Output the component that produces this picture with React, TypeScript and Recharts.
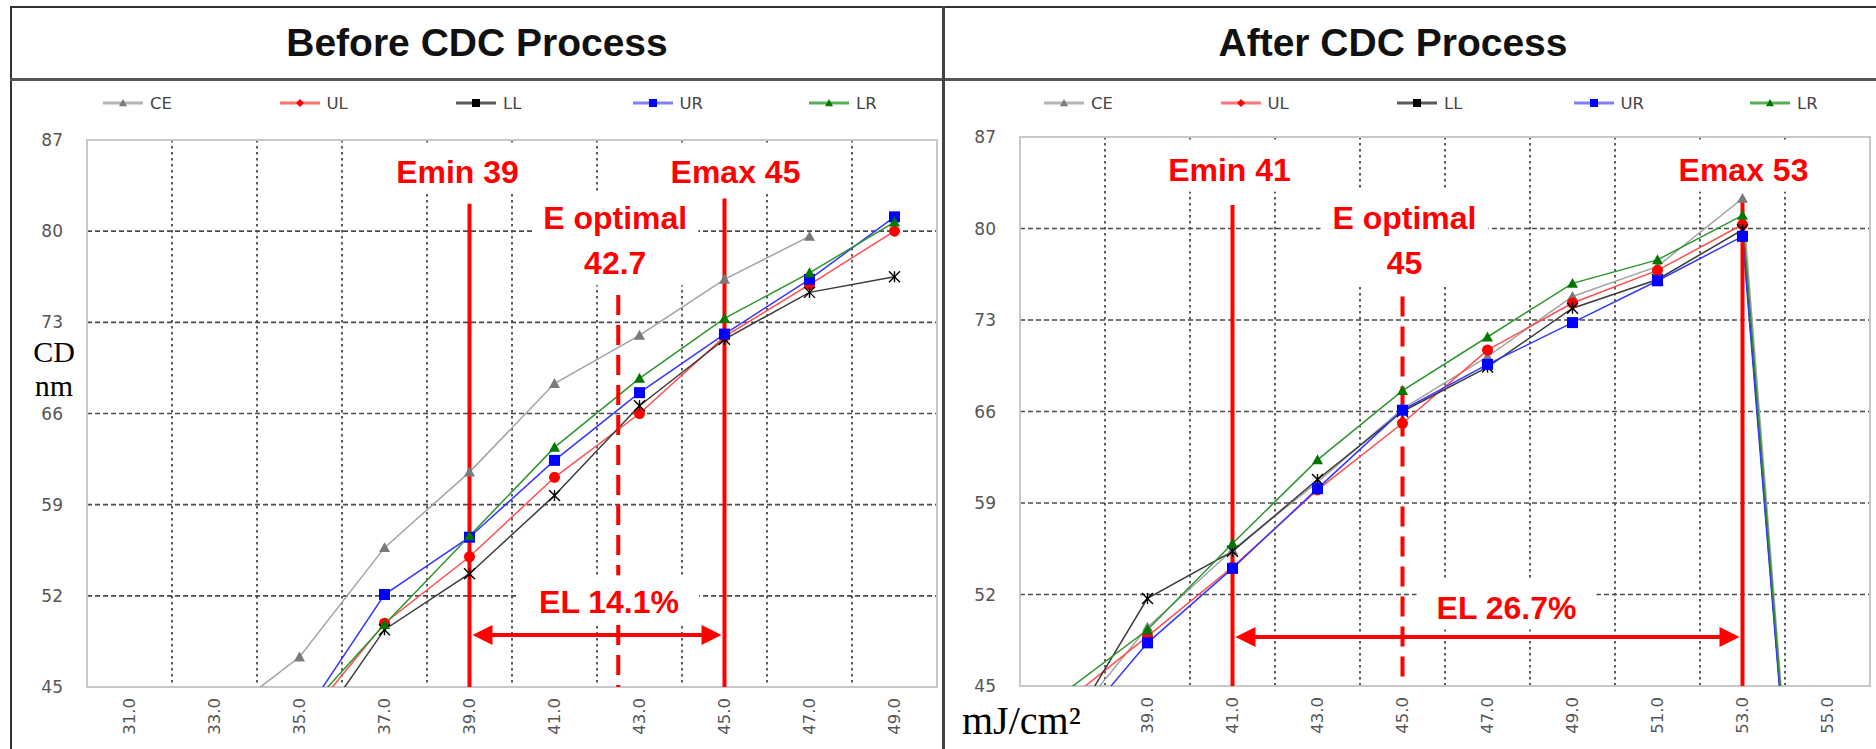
import React from "react"
import {
    CartesianGrid,
    Line,
    LineChart,
    ReferenceArea,
    ReferenceDot,
    ReferenceLine,
    XAxis,
    YAxis,
} from "recharts"

// exposure dose (mJ/cm2) and CD (nm)
const beforeDose = [31, 33, 35, 37, 39, 41, 43, 45, 47, 49]
const beforeCE = [null, 42.3, 47.3, 55.7, 61.5, 68.3, 72.0, 76.3, 79.6, null]
const beforeUL = [null, null, 41.9, 49.9, 55.0, 61.1, 66.0, 71.9, 75.9, 80.0]
const beforeLL = [null, null, 40.0, 49.4, 53.7, 59.7, 66.6, 71.7, 75.3, 76.5]
const beforeUR = [null, null, 42.3, 52.1, 56.5, 62.4, 67.6, 72.1, 76.3, 81.1]
const beforeLR = [null, null, 42.6, 49.8, 56.6, 63.4, 68.7, 73.3, 76.8, 80.7]

const afterDose = [37, 39, 41, 43, 45, 47, 49, 51, 53, 55]
const afterCE = [41.5, 49.5, 55.4, 60.6, 66.2, 70.2, 74.8, 77.1, 82.3, 0]
const afterUL = [43.6, 48.8, 54.1, 60.0, 65.1, 70.7, 74.3, 76.8, 80.3, 0]
const afterLL = [40.9, 51.7, 55.3, 60.8, 66.0, 69.4, 73.9, 76.1, 79.9, 0]
const afterUR = [40.6, 48.3, 54.0, 60.1, 66.1, 69.6, 72.8, 76.0, 79.4, 0]
const afterLR = [44.4, 49.3, 55.9, 62.3, 67.6, 71.7, 75.8, 77.6, 81.0, 0]

const cdTicks = [45, 52, 59, 66, 73, 80, 87]
const cdGrid = [52, 59, 66, 73, 80]
const beforeGridX = [32, 34, 36, 38, 40, 42, 44, 46, 48]
const afterGridX = [38, 40, 42, 44, 46, 48, 50, 52, 54]

const SERIES = [
    { key: "CE", line: "#a3a3a3", mark: "#7a7a7a", legend: "#b4b4b4", shape: "triangle", legendShape: "triangle" },
    { key: "UL", line: "#ff4d4d", mark: "#ff0000", legend: "#ff7373", shape: "circle", legendShape: "diamond" },
    { key: "LL", line: "#3a3a3a", mark: "#000000", legend: "#5a5a5a", shape: "star", legendShape: "square" },
    { key: "UR", line: "#3535ff", mark: "#0000ff", legend: "#8080ff", shape: "square", legendShape: "square" },
    { key: "LR", line: "#2c962c", mark: "#007800", legend: "#55b055", shape: "triangle", legendShape: "triangle" },
]

const build = (xs: number[], cols: Record<string, (number | null)[]>) =>
    xs.map((x, i) => {
        const row: any = { x }
        Object.keys(cols).forEach((k) => (row[k] = cols[k][i]))
        return row
    })

const beforeData = build(beforeDose, { CE: beforeCE, UL: beforeUL, LL: beforeLL, UR: beforeUR, LR: beforeLR })
const afterData = build(afterDose, { CE: afterCE, UL: afterUL, LL: afterLL, UR: afterUR, LR: afterLR })

const RED = "#ff0000"
const SANS = "'Liberation Sans', Arial, sans-serif"
const SERIF = "'Liberation Serif', 'Times New Roman', serif"
const TICK_FONT = "'DejaVu Sans', Verdana, sans-serif"
const CHART_H = 669

const Marker = ({ shape, cx, cy, size, color }: any) => {
    const s = size / 2
    if (shape === "triangle")
        return <polygon points={`${cx},${cy - s} ${cx - s},${cy + s * 0.8} ${cx + s},${cy + s * 0.8}`} fill={color} />
    if (shape === "square") return <rect x={cx - s} y={cy - s} width={size} height={size} fill={color} />
    if (shape === "circle") return <circle cx={cx} cy={cy} r={s} fill={color} />
    if (shape === "diamond")
        return <polygon points={`${cx},${cy - s} ${cx + s},${cy} ${cx},${cy + s} ${cx - s},${cy}`} fill={color} />
    return (
        <g stroke={color} strokeWidth={1.4}>
            <line x1={cx - s} y1={cy - s} x2={cx + s} y2={cy + s} />
            <line x1={cx - s} y1={cy + s} x2={cx + s} y2={cy - s} />
            <line x1={cx} y1={cy - s} x2={cx} y2={cy + s} />
        </g>
    )
}

// rotated dose labels, read bottom to top, ending just under the axis
const XTick = ({ x, top, payload }: any) => (
    <text
        x={x}
        y={top}
        transform={`rotate(-90 ${x} ${top})`}
        textAnchor="end"
        dominantBaseline="central"
        fill="#555"
        fontSize={16.5}
        fontFamily={TICK_FONT}
    >
        {Number(payload.value).toFixed(1)}
    </text>
)

// red annotation text on a white box
const Note = ({ cx, cy, lines, dx = 0, boxW }: any) => (
    <g>
        <rect x={cx + dx - boxW / 2} y={cy - 27} width={boxW} height={49 + (lines.length - 1) * 45} fill="#fff" />
        {lines.map((t: string, i: number) => (
            <text
                key={i}
                x={cx + dx}
                y={cy + i * 45}
                textAnchor="middle"
                dominantBaseline="central"
                fill={RED}
                fontSize={32}
                fontWeight="bold"
                fontFamily={SANS}
            >
                {t}
            </text>
        ))}
    </g>
)

const DoubleArrow = (p: any) => {
    const y = p.y1
    const l = Math.min(p.x1, p.x2) + 3
    const r = Math.max(p.x1, p.x2) - 3
    const a = 20
    const h = 10
    return (
        <g fill={RED}>
            <line x1={l + a - 2} y1={y} x2={r - a + 2} y2={y} stroke={RED} strokeWidth={4} />
            <polygon points={`${l},${y} ${l + a},${y - h} ${l + a},${y + h}`} />
            <polygon points={`${r},${y} ${r - a},${y - h} ${r - a},${y + h}`} />
        </g>
    )
}

interface PanelProps {
    data: any[]
    left: number
    width: number
    yWidth: number
    top: number
    xHeight: number
    domain: [number, number]
    ticks: number[]
    gridX: number[]
    notes: any
}

const Panel = ({ data, left, width, yWidth, top, xHeight, domain, ticks, gridX, notes }: PanelProps) => (
    <div style={{ position: "absolute", left, top: 80 }}>
        <LineChart width={width} height={CHART_H} data={data} margin={{ top, right: 6, bottom: 0, left: 0 }}>
            <ReferenceArea x1={domain[0]} x2={domain[1]} y1={45} y2={87} fill="none" stroke="#c8c8c8" strokeWidth={2} />
            <CartesianGrid horizontal={false} verticalValues={gridX} stroke="#333" strokeWidth={1.6} strokeDasharray="2.5 3.5" />
            <CartesianGrid vertical={false} horizontalValues={cdGrid} stroke="#4a4a4a" strokeWidth={1.7} strokeDasharray="5 3" />
            <XAxis
                type="number"
                dataKey="x"
                domain={domain}
                ticks={ticks}
                interval={0}
                allowDataOverflow
                height={xHeight}
                axisLine={false}
                tickLine={false}
                tick={<XTick top={CHART_H - xHeight + 11} />}
            />
            <YAxis
                type="number"
                domain={[45, 87]}
                ticks={cdTicks}
                interval={0}
                allowDataOverflow
                width={yWidth}
                axisLine={false}
                tickLine={false}
                tickSize={0}
                tickMargin={24}
                tick={{ fill: "#555", fontSize: 17, fontFamily: TICK_FONT }}
            />
            {notes.boxes.map((n: any, i: number) => (
                <ReferenceDot
                    key={i}
                    x={n.x}
                    y={n.y}
                    r={0}
                    shape={(p: any) => <Note cx={p.cx} cy={p.cy} lines={n.lines} dx={n.dx} boxW={n.boxW} />}
                />
            ))}
            {SERIES.map((s) => (
                <Line
                    key={s.key}
                    dataKey={s.key}
                    type="linear"
                    stroke={s.line}
                    strokeWidth={1.5}
                    connectNulls={false}
                    isAnimationActive={false}
                    dot={(p: any) =>
                        p.value == null || p.cx == null || p.cy == null ? (
                            <g key={`${s.key}-${p.index}`} />
                        ) : (
                            <Marker key={`${s.key}-${p.index}`} shape={s.shape} cx={p.cx} cy={p.cy} size={11} color={s.mark} />
                        )
                    }
                />
            ))}
            <ReferenceLine segment={[{ x: notes.emin, y: notes.eminTop }, { x: notes.emin, y: 45 }]} stroke={RED} strokeWidth={4} />
            <ReferenceLine segment={[{ x: notes.emax, y: notes.emaxTop }, { x: notes.emax, y: 45 }]} stroke={RED} strokeWidth={4} />
            <ReferenceLine
                segment={[{ x: notes.eopt, y: notes.eoptTop }, { x: notes.eopt, y: 45 }]}
                stroke={RED}
                strokeWidth={4}
                strokeDasharray="20 10"
            />
            <ReferenceLine
                segment={[{ x: notes.emin, y: notes.elY }, { x: notes.emax, y: notes.elY }]}
                shape={DoubleArrow}
            />
        </LineChart>
    </div>
)

const Legend = ({ x0 }: { x0: number }) => (
    <>
        {SERIES.map((s, i) => (
            <div
                key={s.key}
                style={{
                    position: "absolute",
                    left: x0 + i * 176.5,
                    top: 93,
                    height: 20,
                    display: "flex",
                    alignItems: "center",
                    fontFamily: TICK_FONT,
                    fontSize: 16.5,
                    color: "#444",
                }}
            >
                <svg width={40} height={20}>
                    <line x1={0} y1={10} x2={40} y2={10} stroke={s.legend} strokeWidth={3} />
                    <Marker shape={s.legendShape} cx={20} cy={10} size={8} color={s.mark} />
                </svg>
                <span style={{ marginLeft: 7 }}>{s.key}</span>
            </div>
        ))}
    </>
)

const beforeNotes = {
    emin: 39,
    emax: 45,
    eopt: 42.5,
    eminTop: 82.1,
    emaxTop: 82.5,
    eoptTop: 75.1,
    elY: 49.0,
    boxes: [
        { x: 39, y: 84.55, lines: ["Emin 39"], dx: -12, boxW: 140 },
        { x: 45, y: 84.55, lines: ["Emax 45"], dx: 11, boxW: 148 },
        { x: 42.5, y: 81.0, lines: ["E optimal", "42.7"], dx: -3, boxW: 166 },
        { x: 42, y: 51.5, lines: ["EL 14.1%"], dx: 12, boxW: 180 },
    ],
}

const afterNotes = {
    emin: 41,
    emax: 53,
    eopt: 45,
    eminTop: 81.8,
    emaxTop: 82.3,
    eoptTop: 74.8,
    elY: 48.75,
    boxes: [
        { x: 41, y: 84.5, lines: ["Emin 41"], dx: -3, boxW: 140 },
        { x: 53, y: 84.5, lines: ["Emax 53"], dx: 1, boxW: 148 },
        { x: 45, y: 80.8, lines: ["E optimal", "45"], dx: 2, boxW: 168 },
        { x: 47, y: 51.0, lines: ["EL 26.7%"], dx: 19, boxW: 180 },
    ],
}

const title: React.CSSProperties = {
    position: "absolute",
    top: 8,
    height: 70,
    lineHeight: "70px",
    textAlign: "center",
    fontFamily: SANS,
    fontWeight: "bold",
    fontSize: 39,
    color: "#111",
}

const axisWord: React.CSSProperties = {
    position: "absolute",
    left: 24,
    width: 60,
    height: 34,
    lineHeight: "34px",
    textAlign: "center",
    fontFamily: SERIF,
    fontSize: 30,
    color: "#000",
}

export default function App() {
    return (
        <div style={{ position: "absolute", left: 0, top: 0, width: 1876, height: 749, background: "#fff", overflow: "hidden" }}>
            <div style={{ ...title, left: 12, width: 930 }}>Before CDC Process</div>
            <div style={{ ...title, left: 945, width: 896 }}>After CDC Process</div>

            <Legend x0={103} />
            <Legend x0={1044} />

            <Panel
                data={beforeData}
                left={0}
                width={943}
                yWidth={87}
                top={60}
                xHeight={62}
                domain={[30, 50]}
                ticks={beforeDose}
                gridX={beforeGridX}
                notes={beforeNotes}
            />
            <Panel
                data={afterData}
                left={943}
                width={933}
                yWidth={77}
                top={57}
                xHeight={63}
                domain={[36, 56]}
                ticks={afterDose}
                gridX={afterGridX}
                notes={afterNotes}
            />

            <div style={{ ...axisWord, top: 335 }}>CD</div>
            <div style={{ ...axisWord, top: 369 }}>nm</div>
            <div style={{ position: "absolute", left: 958, top: 698, padding: "0 4px", height: 51, lineHeight: "46px", background: "#fff", fontFamily: SERIF, fontSize: 40, color: "#000" }}>
                mJ/cm²
            </div>

            <div style={{ position: "absolute", left: 10, top: 6, width: 1866, height: 2, background: "#333" }} />
            <div style={{ position: "absolute", left: 10, top: 6, width: 2, height: 743, background: "#333" }} />
            <div style={{ position: "absolute", left: 10, top: 78, width: 1866, height: 3, background: "#555" }} />
            <div style={{ position: "absolute", left: 942, top: 6, width: 3, height: 743, background: "#444" }} />
        </div>
    )
}
